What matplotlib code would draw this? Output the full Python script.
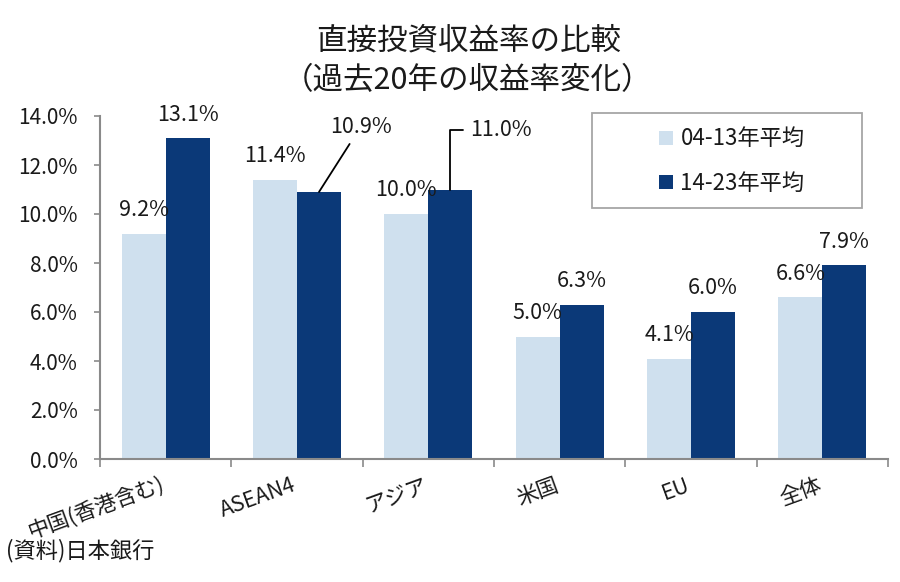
import numpy as np
import matplotlib
matplotlib.use('Agg')
from matplotlib import pyplot as plt
from matplotlib.patches import Rectangle

plt.rcParams['font.family'] = ['Noto Sans CJK JP', 'DejaVu Sans']

#データ（日本銀行）
categories = ['中国(香港含む)', 'ASEAN4', 'アジア', '米国', 'EU', '全体']
avg_0413 = [9.2, 11.4, 10.0, 5.0, 4.1, 6.6]  #04-13年平均
avg_1423 = [13.1, 10.9, 11.0, 6.3, 6.0, 7.9]  #14-23年平均
series_names = ['04-13年平均', '14-23年平均']
y_ticks = [0, 2, 4, 6, 8, 10, 12, 14]

LIGHT = '#cfe0ee'
DARK = '#0b3978'
AXIS_GRAY = '#8a8a8a'
TEXT = '#1a1a1a'

fig = plt.figure(figsize=(9, 5.82), dpi=100)
ax = fig.add_axes([100 / 900, 1 - 459 / 582, 788 / 900, 343 / 582])

x = np.arange(len(categories))
w = 0.335
#明るい方は左、濃い方は右
bars1 = ax.bar(x - w / 2, avg_0413, w, color=LIGHT, label=series_names[0])
bars2 = ax.bar(x + w / 2, avg_1423, w, color=DARK, label=series_names[1])

ax.set_xlim(-0.5, len(categories) - 0.5)
ax.set_ylim(0, 14)
ax.set_yticks(y_ticks)
ax.set_yticklabels([f'{v:.1f}%' for v in y_ticks], fontsize=15, color=TEXT)
ax.set_xticks(np.arange(-0.5, len(categories)))
ax.set_xticklabels([])
ax.tick_params(axis='y', length=4, width=1.2, color=AXIS_GRAY, pad=12)
ax.tick_params(axis='x', length=6, width=1.2, color=AXIS_GRAY, direction='out')

for s in ['top', 'right']:
    ax.spines[s].set_visible(False)
for s in ['left', 'bottom']:
    ax.spines[s].set_color(AXIS_GRAY)
    ax.spines[s].set_linewidth(1.5)

#カテゴリ名（斜め）
for i, name in enumerate(categories):
    ax.annotate(name, xy=(i, 0), xycoords='data', xytext=(-4, -11),
                textcoords='offset points', ha='right', va='top',
                rotation=20, rotation_mode='anchor', fontsize=15.5, color=TEXT,
                annotation_clip=False)

#数値ラベル
for b, v in zip(bars1, avg_0413):
    ax.annotate(f'{v:.1f}%', xy=(b.get_x() + b.get_width() / 2, v),
                xytext=(0, 9), textcoords='offset points', ha='center',
                va='bottom', fontsize=15.5, color=TEXT)
for i, (b, v) in enumerate(zip(bars2, avg_1423)):
    cx = b.get_x() + b.get_width() / 2
    if i == 1:
        ax.annotate(f'{v:.1f}%', xy=(cx, v), xytext=(30, 47),
                    textcoords='offset points', ha='center', va='center',
                    fontsize=15.5, color=TEXT,
                    arrowprops=dict(arrowstyle='-', color='black', lw=1.3,
                                    shrinkA=3, shrinkB=0))
    elif i == 2:
        ax.annotate(f'{v:.1f}%', xy=(cx, v), xytext=(14, 43),
                    textcoords='offset points', ha='left', va='center',
                    fontsize=15.5, color=TEXT,
                    arrowprops=dict(arrowstyle='-', color='black', lw=1.3,
                                    shrinkA=3, shrinkB=0,
                                    connectionstyle='angle,angleA=0,angleB=90,rad=0'))
    else:
        ax.annotate(f'{v:.1f}%', xy=(cx, v), xytext=(0, 9),
                    textcoords='offset points', ha='center', va='bottom',
                    fontsize=15.5, color=TEXT)

#凡例
fig.patches.append(Rectangle((592 / 900, 1 - 208 / 582), 270 / 900, 95 / 582,
                             transform=fig.transFigure, fill=False,
                             edgecolor='#a6a6a6', lw=1.3))
ax.legend(loc='center', bbox_to_anchor=(732 / 900, 1 - 161 / 582),
          bbox_transform=fig.transFigure, frameon=False, fontsize=16,
          handlelength=0.6, handleheight=0.6, handletextpad=0.35,
          labelspacing=0.95, labelcolor=TEXT)

#タイトル
fig.text(469 / 900, 1 - 41 / 582, '直接投資収益率の比較', ha='center',
         va='center', fontsize=22, color=TEXT)
fig.text(468 / 900, 1 - 81 / 582, '（過去20年の収益率変化）', ha='center',
         va='center', fontsize=22, color=TEXT)

fig.text(6 / 900, 1 - 551 / 582, '(資料)日本銀行', ha='left', va='center',
         fontsize=16, color=TEXT)

fig.savefig('out.png', dpi=100, facecolor='white')
